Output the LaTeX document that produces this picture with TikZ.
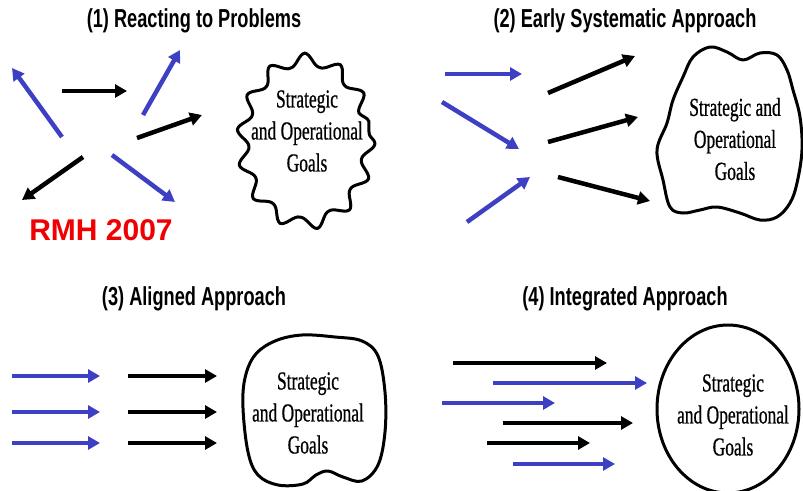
\documentclass[tikz,border=0pt]{standalone}
\usepackage{fontspec}
\usetikzlibrary{arrows.meta,decorations.pathmorphing}
\newfontfamily\titlefont[FakeStretch=0.70]{Liberation Sans}
\newfontfamily\goalfont[FakeStretch=0.67,FakeBold=0.6]{Liberation Serif}
\newfontfamily\rmhfont{Liberation Sans}
\definecolor{arrblue}{RGB}{62,64,196}
\definecolor{rmhred}{RGB}{240,0,0}
\tikzset{
  arr/.style={line width=4.5pt,-{Triangle[length=12pt,width=13pt]}},
  barr/.style={arr,draw=black},
  uarr/.style={arr,draw=arrblue},
  ttl/.style={font=\titlefont\bfseries\fontsize{26}{30}\selectfont,inner sep=0pt},
  goal/.style={font=\goalfont\fontsize{26}{32}\selectfont,align=center,inner sep=0pt},
  outline/.style={line width=3pt,line join=round}
}
\begin{document}
\begin{tikzpicture}[x=1pt,y=-1pt]
\useasboundingbox[fill=white] (0,0) rectangle (803,490);
% ---------- (1) ----------
\node[ttl] (t1) at (194,21) {(1) Reacting to Problems};
\draw[uarr] (62,137) -- (12,68);
\draw[barr] (62,91) -- (127,91);
\draw[uarr] (143,115) -- (180,50);
\draw[barr] (137,138) -- (202,115);
\draw[barr] (83,157) -- (22,200);
\draw[uarr] (112,155) -- (175,202);
\draw[outline,decorate,decoration={snake,amplitude=6pt,segment length=34pt}]
  (306,133) ellipse [x radius=63, y radius=82];
\node[goal] (g1) at (307,131) {Strategic\\and Operational\\Goals};
\node[font=\rmhfont\bfseries\fontsize{30}{34}\selectfont,text=rmhred,inner sep=0pt] (rmh) at (101,230) {RMH 2007};
% ---------- (2) ----------
\node[ttl] (t2) at (625,21) {(2) Early Systematic Approach};
\draw[uarr] (445,74) -- (522,74);
\draw[uarr] (442,102) -- (519,149);
\draw[uarr] (467,222) -- (530,177);
\draw[barr] (548,93) -- (635,56);
\draw[barr] (548,142) -- (638,117);
\draw[barr] (558,177) -- (650,201);
\draw[outline] plot[smooth cycle,tension=0.6] coordinates {
  (693,57) (710,47) (727,52) (743,60) (760,53) (777,55) (787,70) (793,90)
  (800,117) (802,150) (797,183) (790,203) (777,217) (760,220) (740,213)
  (717,207) (700,210) (683,213) (670,207) (663,180) (657,150) (667,123)
  (673,100) (683,77)};
\node[goal] (g2) at (735,139) {Strategic and\\Operational\\Goals};
% ---------- (3) ----------
\node[ttl] (t3) at (194,299) {(3) Aligned Approach};
\foreach \y in {376,412,443}{
  \draw[uarr] (12,\y) -- (100,\y);
  \draw[barr] (128,\y) -- (217,\y);
}
\draw[outline] plot[smooth cycle,tension=0.6] coordinates {
  (255,355) (275,341) (302,335) (335,337) (362,341) (378,356) (385,392)
  (385,432) (378,465) (362,481) (343,477) (328,471) (316,475) (303,484)
  (278,485) (258,475) (248,452) (243,408) (245,378)};
\node[goal] (g3) at (308,413) {Strategic\\and Operational\\Goals};
% ---------- (4) ----------
\node[ttl] (t4) at (625,299) {(4) Integrated Approach};
\draw[barr] (453,363) -- (607,363);
\draw[uarr] (493,383) -- (647,383);
\draw[uarr] (442,403) -- (555,403);
\draw[barr] (503,423) -- (633,423);
\draw[barr] (487,443) -- (590,443);
\draw[uarr] (513,464) -- (615,464);
\draw[outline] (728,409) ellipse [x radius=71, y radius=84];
\node[goal] (g4) at (733,415) {Strategic\\and Operational\\Goals};
\end{tikzpicture}
\end{document}
